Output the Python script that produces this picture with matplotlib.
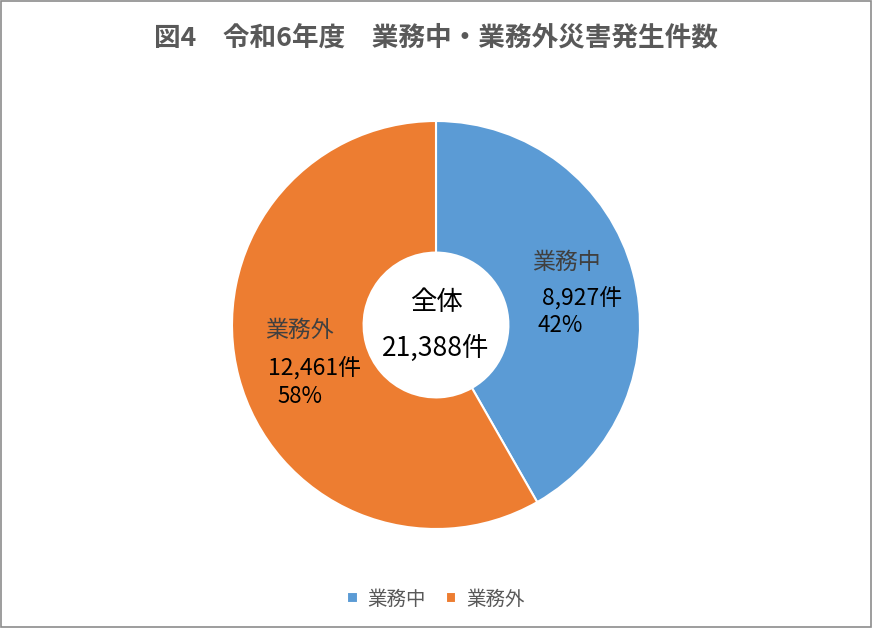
import matplotlib

matplotlib.use("Agg")
import matplotlib.pyplot as plt
from matplotlib.patches import Rectangle

plt.rcParams["font.family"] = ["Noto Sans CJK JP", "DejaVu Sans"]

categories = ["業務中", "業務外"]
counts = [8927, 12461]
colors = ["#5B9BD5", "#ED7D31"]
title = "図4　令和6年度　業務中・業務外災害発生件数"

total = sum(counts)

fig = plt.figure(figsize=(8.72, 6.28), dpi=100)
fig.patches.append(Rectangle((0.001, 0.001), 0.998, 0.997, transform=fig.transFigure,
                             fill=False, ec="#8c8c8c", lw=1.2))

# pie centre at (436, 325) px, radius ~204 px
ax = fig.add_axes([(436 - 204) / 872, (303 - 204) / 628, 408 / 872, 408 / 628])
wedges, _ = ax.pie(counts, colors=colors, startangle=90, counterclock=False,
                   radius=1.0, wedgeprops=dict(width=0.645, edgecolor="white", linewidth=1.5))
ax.set_xlim(-1, 1)
ax.set_ylim(-1, 1)
ax.set_aspect("equal")
ax.axis("off")

# slice labels
label_pos = [
    [(0.637, 0.309), (0.715, 0.132), (0.61, 0.0)],
    [(-0.67, -0.025), (-0.595, -0.21), (-0.666, -0.35)],
]
for i, (cat, n) in enumerate(zip(categories, counts)):
    p_name, p_num, p_pct = label_pos[i]
    ax.text(*p_name, cat, ha="center", va="center", fontsize=16.5, color="#404040")
    ax.text(*p_num, f"{n:,}件", ha="center", va="center", fontsize=16.5, color="black")
    ax.text(*p_pct, f"{round(n / total * 100)}%", ha="center", va="center",
            fontsize=16, color="black")

ax.text(0, 0.11, "全体", ha="center", va="center", fontsize=19, color="black")
ax.text(0, -0.115, f"{total:,}件", ha="center", va="center", fontsize=19, color="black")

fig.text(0.5, 1 - 38 / 628, title, ha="center", va="center", fontsize=19.2,
         fontweight="bold", color="#595959")

fig.legend(wedges, categories, loc="center", bbox_to_anchor=(0.5, 1 - 599 / 628),
           ncol=2, frameon=False, fontsize=14, labelcolor="#595959",
           handlelength=0.55, handleheight=0.55, handletextpad=0.5, columnspacing=1.0)

fig.savefig("out.png", dpi=100, facecolor="white")
